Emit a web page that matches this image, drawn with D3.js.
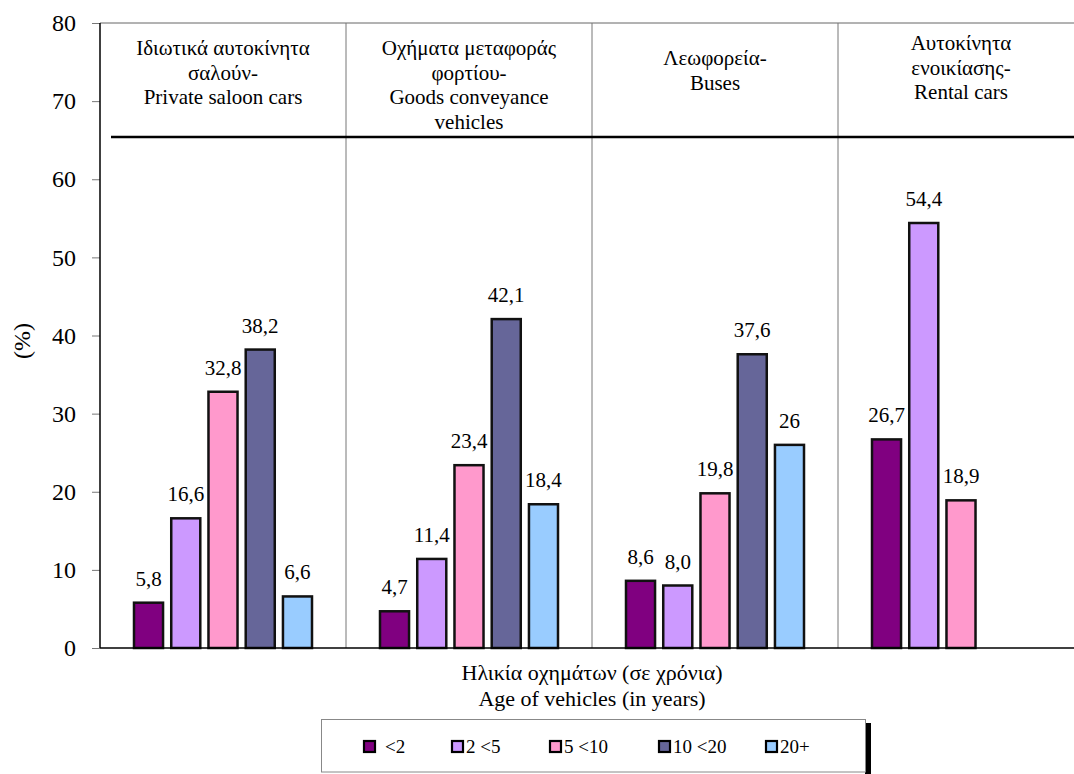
<!DOCTYPE html>
<html>
<head>
<meta charset="utf-8">
<script src="https://cdn.jsdelivr.net/npm/d3@7"></script>
<style>
  body { margin: 0; background: #fff; }
</style>
</head>
<body>
<div id="chart"></div>
<script>
// data
var categories = ["private", "goods", "buses", "rental"];
var headers = [
  ["Ιδιωτικά αυτοκίνητα", "σαλούν-", "Private saloon cars"],
  ["Οχήματα μεταφοράς", "φορτίου-", "Goods conveyance", "vehicles"],
  ["Λεωφορεία-", "Buses"],
  ["Αυτοκίνητα", "ενοικίασης-", "Rental cars"]
];
var series = ["<2", "2 <5", "5 <10", "10 <20", "20+"];
var colours = ["#800080", "#cc99ff", "#ff99cc", "#666699", "#99ccff"];
var values = [
  [5.8, 16.6, 32.8, 38.2, 6.6],
  [4.7, 11.4, 23.4, 42.1, 18.4],
  [8.6, 8.0, 19.8, 37.6, 26],
  [26.7, 54.4, 18.9, null, null]
];
var labels = [
  ["5,8", "16,6", "32,8", "38,2", "6,6"],
  ["4,7", "11,4", "23,4", "42,1", "18,4"],
  ["8,6", "8,0", "19,8", "37,6", "26"],
  ["26,7", "54,4", "18,9", null, null]
];
var yTicks = [0, 10, 20, 30, 40, 50, 60, 70, 80];

var serif = "'Liberation Serif'";
var width = 1074, height = 774;
var svg = d3.select("#chart").append("svg")
  .attr("width", width)
  .attr("height", height);

// scales
var y = d3.scaleLinear().domain([0, 80]).range([648, 23]);
var x = d3.scaleBand().domain(categories).range([100, 1084]).padding(0);
var xs = d3.scaleBand().domain(series).range([34, 212]).paddingInner(0.22).paddingOuter(0);

// top border + dividers
svg.append("line")
  .attr("x1", 100).attr("x2", width)
  .attr("y1", y(80)).attr("y2", y(80))
  .attr("stroke", "#666").attr("stroke-width", 1);

svg.selectAll(".divider")
  .data(categories.slice(1))
  .enter().append("line")
  .attr("class", "divider")
  .attr("x1", function (d) { return x(d); })
  .attr("x2", function (d) { return x(d); })
  .attr("y1", y(80)).attr("y2", y(0))
  .attr("stroke", "#777").attr("stroke-width", 1);

// thick header line
svg.append("line")
  .attr("x1", 111).attr("x2", width)
  .attr("y1", y(65.4)).attr("y2", y(65.4))
  .attr("stroke", "#000").attr("stroke-width", 2.5);

// headers
var headerTop = [55, 55, 65, 50];
categories.forEach(function (c, i) {
  svg.append("text")
    .attr("text-anchor", "middle")
    .style("font-family", serif)
    .style("font-size", "21px")
    .selectAll("tspan")
    .data(headers[i])
    .enter().append("tspan")
    .attr("x", x(c) + x.bandwidth() / 2)
    .attr("y", function (d, j) { return headerTop[i] + j * 24.5; })
    .text(function (d) { return d; });
});

// y axis
var yAxis = d3.axisLeft(y).tickValues(yTicks).tickSize(8).tickPadding(16);
var gy = svg.append("g")
  .attr("transform", "translate(100,0)")
  .call(yAxis);
gy.select(".domain").remove();
gy.selectAll(".tick line").attr("stroke", "#777");
gy.selectAll(".tick text")
  .attr("fill", "#000")
  .style("font-family", serif)
  .style("font-size", "24px");
svg.append("line")
  .attr("x1", 100).attr("x2", 100)
  .attr("y1", y(80)).attr("y2", y(0))
  .attr("stroke", "#000").attr("stroke-width", 1.5);

// bars
var groups = svg.selectAll(".grp")
  .data(categories)
  .enter().append("g")
  .attr("class", "grp")
  .attr("transform", function (d) { return "translate(" + x(d) + ",0)"; });

groups.each(function (c, i) {
  var g = d3.select(this);
  var rows = series.map(function (s, j) {
    return { s: s, v: values[i][j], l: labels[i][j], c: colours[j] };
  }).filter(function (d) { return d.v != null; });

  g.selectAll("rect")
    .data(rows)
    .enter().append("rect")
    .attr("x", function (d) { return xs(d.s); })
    .attr("y", function (d) { return y(d.v); })
    .attr("width", xs.bandwidth())
    .attr("height", function (d) { return y(0) - y(d.v); })
    .attr("fill", function (d) { return d.c; })
    .attr("stroke", "#111")
    .attr("stroke-width", 2.5);

  g.selectAll(".label")
    .data(rows)
    .enter().append("text")
    .attr("class", "label")
    .attr("x", function (d) { return xs(d.s) + xs.bandwidth() / 2; })
    .attr("y", function (d) { return y(d.v) - 17; })
    .attr("text-anchor", "middle")
    .style("font-family", serif)
    .style("font-size", "21px")
    .text(function (d) { return d.l; });
});

// x axis line
svg.append("line")
  .attr("x1", 100).attr("x2", width)
  .attr("y1", y(0)).attr("y2", y(0))
  .attr("stroke", "#000").attr("stroke-width", 1.5);

// axis titles
svg.append("text")
  .attr("x", 592).attr("y", 680)
  .attr("text-anchor", "middle")
  .style("font-family", serif)
  .style("font-size", "22px")
  .text("Ηλικία οχημάτων (σε χρόνια)");
svg.append("text")
  .attr("x", 592).attr("y", 706)
  .attr("text-anchor", "middle")
  .style("font-family", serif)
  .style("font-size", "22px")
  .text("Age of vehicles (in years)");

svg.append("text")
  .attr("transform", "translate(30,341) rotate(-90)")
  .attr("text-anchor", "middle")
  .style("font-family", serif)
  .style("font-size", "24px")
  .text("(%)");

// legend
svg.append("rect")
  .attr("x", 865).attr("y", 723)
  .attr("width", 6).attr("height", 60)
  .attr("fill", "#000");
svg.append("rect")
  .attr("x", 321.5).attr("y", 719.5)
  .attr("width", 544).attr("height", 52.5)
  .attr("fill", "#fff")
  .attr("stroke", "#888").attr("stroke-width", 1);

var legendX = [364, 452, 550, 659, 766];
var lg = svg.selectAll(".leg")
  .data(series)
  .enter().append("g")
  .attr("class", "leg")
  .attr("transform", function (d, i) { return "translate(" + legendX[i] + ",741)"; });
lg.append("rect")
  .attr("width", 11).attr("height", 11)
  .attr("fill", function (d, i) { return colours[i]; })
  .attr("stroke", "#000").attr("stroke-width", 2.2);
lg.append("text")
  .attr("x", function (d, i) { return i == 0 ? 21 : 14; })
  .attr("y", 12)
  .style("font-family", serif)
  .style("font-size", "19px")
  .text(function (d) { return d; });
</script>
</body>
</html>
